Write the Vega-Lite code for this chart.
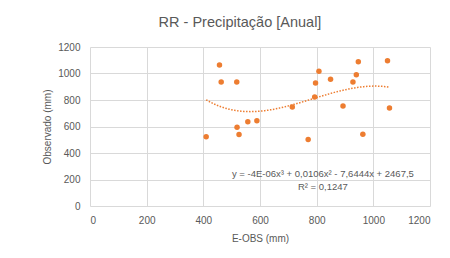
{
  "$schema": "https://vega.github.io/schema/vega-lite/v6.json",
  "width": 340,
  "height": 159,
  "autosize": {"type": "none"},
  "padding": {"left": 90, "top": 47, "right": 20, "bottom": 52},
  "background": "white",
  "title": {
    "text": "RR - Precipitação [Anual]",
    "fontSize": 14.5,
    "font": "Liberation Sans",
    "fontWeight": "normal",
    "color": "#595959",
    "anchor": "middle",
    "dx": -20,
    "offset": 12
  },
  "config": {
    "view": {"stroke": null},
    "font": "Liberation Sans",
    "axis": {
      "labelColor": "#595959",
      "titleColor": "#595959",
      "labelFontSize": 10,
      "titleFontSize": 10,
      "titleFontWeight": "normal",
      "gridColor": "#d9d9d9",
      "gridWidth": 1,
      "grid": true,
      "domain": false,
      "ticks": false,
      "labelOverlap": false,
      "format": "d"
    }
  },
  "data": {
    "values": [
      {"eobs": 410, "obs": 522},
      {"eobs": 457, "obs": 1064},
      {"eobs": 463, "obs": 936},
      {"eobs": 518, "obs": 936},
      {"eobs": 519, "obs": 595},
      {"eobs": 526, "obs": 540},
      {"eobs": 557, "obs": 635},
      {"eobs": 589, "obs": 643},
      {"eobs": 714, "obs": 748},
      {"eobs": 770, "obs": 502},
      {"eobs": 793, "obs": 823},
      {"eobs": 796, "obs": 929},
      {"eobs": 808, "obs": 1017},
      {"eobs": 849, "obs": 956},
      {"eobs": 893, "obs": 755},
      {"eobs": 928, "obs": 936},
      {"eobs": 940, "obs": 991},
      {"eobs": 947, "obs": 1089},
      {"eobs": 963, "obs": 542},
      {"eobs": 1050, "obs": 1097},
      {"eobs": 1057, "obs": 740}
    ]
  },
  "layer": [
    {
      "mark": {"type": "point", "filled": true, "color": "#ED7D31", "size": 30, "opacity": 1},
      "encoding": {
        "x": {
          "field": "eobs", "type": "quantitative",
          "scale": {"domain": [0, 1200], "nice": false},
          "axis": {"values": [0, 200, 400, 600, 800, 1000, 1200], "title": "E-OBS (mm)", "labelPadding": 9, "titlePadding": 8}
        },
        "y": {
          "field": "obs", "type": "quantitative",
          "scale": {"domain": [0, 1200], "nice": false},
          "axis": {"values": [0, 200, 400, 600, 800, 1000, 1200], "title": "Observado (mm)", "labelPadding": 10, "titlePadding": 5}
        }
      }
    },
    {
      "transform": [
        {"regression": "obs", "on": "eobs", "method": "poly", "order": 3}
      ],
      "mark": {"type": "line", "color": "#ED7D31", "strokeWidth": 1.5, "strokeDash": [1.5, 1.5]},
      "encoding": {
        "x": {
          "field": "eobs", "type": "quantitative",
          "scale": {"domain": [0, 1200], "nice": false},
          "axis": {"values": [0, 200, 400, 600, 800, 1000, 1200], "title": "E-OBS (mm)", "labelPadding": 9, "titlePadding": 8}
        },
        "y": {
          "field": "obs", "type": "quantitative",
          "scale": {"domain": [0, 1200], "nice": false},
          "axis": {"values": [0, 200, 400, 600, 800, 1000, 1200], "title": "Observado (mm)", "labelPadding": 10, "titlePadding": 5}
        }
      }
    },
    {
      "data": {"values": [{"line": "y = -4E-06x³ + 0,0106x² - 7,6444x + 2467,5"}]},
      "mark": {"type": "text", "color": "#595959", "fontSize": 9.5, "align": "center", "baseline": "middle"},
      "encoding": {
        "x": {"datum": 822, "type": "quantitative", "axis": {"values": [0, 200, 400, 600, 800, 1000, 1200], "title": "E-OBS (mm)", "labelPadding": 9, "titlePadding": 8}},
        "y": {"datum": 241, "type": "quantitative", "axis": {"values": [0, 200, 400, 600, 800, 1000, 1200], "title": "Observado (mm)", "labelPadding": 10, "titlePadding": 5}},
        "text": {"field": "line"}
      }
    },
    {
      "data": {"values": [{"line": "R² = 0,1247"}]},
      "mark": {"type": "text", "color": "#595959", "fontSize": 9.5, "align": "center", "baseline": "middle"},
      "encoding": {
        "x": {"datum": 822, "type": "quantitative", "axis": {"values": [0, 200, 400, 600, 800, 1000, 1200], "title": "E-OBS (mm)", "labelPadding": 9, "titlePadding": 8}},
        "y": {"datum": 143, "type": "quantitative", "axis": {"values": [0, 200, 400, 600, 800, 1000, 1200], "title": "Observado (mm)", "labelPadding": 10, "titlePadding": 5}},
        "text": {"field": "line"}
      }
    }
  ]
}
